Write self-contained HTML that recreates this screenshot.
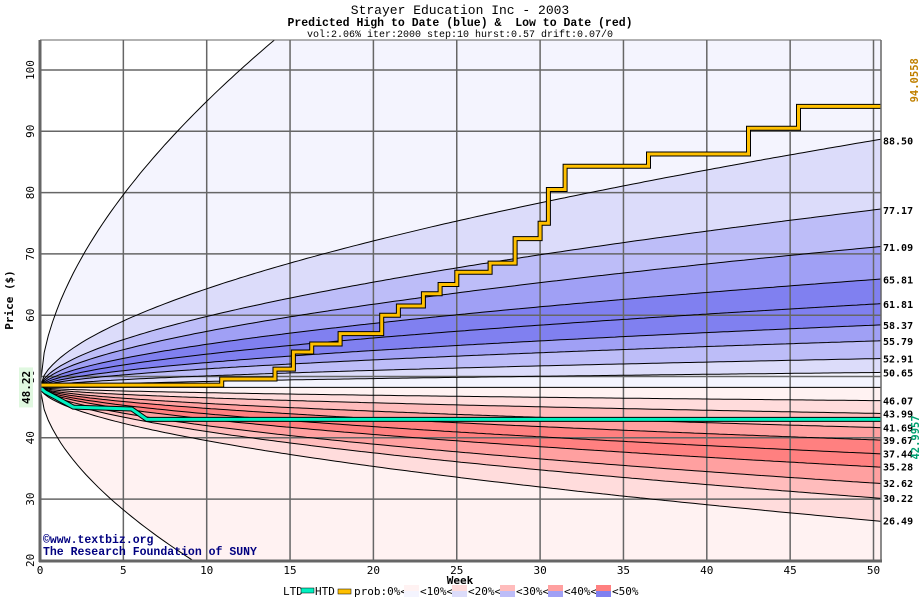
<!DOCTYPE html>
<html><head><meta charset="utf-8"><style>
html,body{margin:0;padding:0;background:#fff;overflow:hidden;width:920px;height:600px;}
svg{display:block;font-family:"DejaVu Sans Mono","Liberation Mono",monospace;}
</style></head><body>
<svg id="chart" width="920" height="600" viewBox="0 0 920 600">
<defs><clipPath id="plotclip"><rect x="40" y="40" width="841" height="520"/></clipPath></defs>
<text x="460" y="14" text-anchor="middle" font-size="13" font-family="Liberation Mono, monospace">Strayer Education Inc - 2003</text>
<text x="460" y="26" text-anchor="middle" font-size="11.5" font-weight="bold" font-family="Liberation Mono, monospace" xml:space="preserve">Predicted High to Date (blue) &amp;  Low to Date (red)</text>
<text x="460" y="37" text-anchor="middle" font-size="10" font-family="Liberation Mono, monospace">vol:2.06% iter:2000 step:10 hurst:0.57 drift:0.07/0</text>
<g id="bands" clip-path="url(#plotclip)"></g>
<g id="grid"></g>
<g id="curves" clip-path="url(#plotclip)"></g>
<g id="series" clip-path="url(#plotclip)"></g>
<g id="axes"></g>
<text x="43" y="543" font-size="11.5" font-weight="bold" fill="#000080" font-family="Liberation Mono, monospace">©www.textbiz.org</text>
<text x="43" y="555" font-size="11.5" font-weight="bold" fill="#000080" font-family="Liberation Mono, monospace">The Research Foundation of SUNY</text>
<text transform="translate(13,300) rotate(-90)" text-anchor="middle" font-size="11" font-weight="bold">Price ($)</text>
<text x="460" y="584" text-anchor="middle" font-size="11" font-weight="bold">Week</text>
<g id="legend"></g>
</svg>
<script>
const S0 = 48.22;
const blueFinals = [165, 88.50, 77.17, 71.09, 65.81, 61.81, 58.37, 55.79, 52.91, 50.65];
const redFinals = [46.07, 43.99, 41.69, 39.67, 37.44, 35.28, 32.62, 30.22, 26.49, -26];
const blueLabels = ["88.50","77.17","71.09","65.81","61.81","58.37","55.79","52.91","50.65"];
const redLabels = ["46.07","43.99","41.69","39.67","37.44","35.28","32.62","30.22","26.49"];
const blueLevels = [1,2,3,4,5,5,4,3,2,1];
const redLevels = [1,2,3,4,5,5,4,3,2,1];
const hurst = 0.57;
const xTicks = [0,5,10,15,20,25,30,35,40,45,50];
const yTicks = [20,30,40,50,60,70,80,90,100];
const htdWeeks = [0,10.9,14.1,15.2,16.3,18,20.5,21.5,23,24,25,27,28.5,30,30.5,31.5,36.5,42.5,45.5,50.5];
const htdValues = [48.6,49.6,51.2,54.0,55.3,57.0,60.0,61.5,63.5,65.0,67.0,68.5,72.5,75.0,80.5,84.3,86.3,90.5,94.06,94.06];
const ltdWeeks = [0,0.3,1,2,5.5,6.4,50.5];
const ltdValues = [48.22,47.5,46.5,45.0,44.7,43.0,43.0];
const blueCol = ["#ffffff","#f4f4fe","#dcdcfa","#bdbdf8","#a0a0f5","#8080f0"];
const redCol = ["#ffffff","#fff2f2","#ffdcdc","#ffbcbc","#ffa0a0","#ff8080"];

const X = w => 40 + w * 16.67;
const Y = p => 70 + (100 - Math.max(18, Math.min(107, p))) * 6.13;
const NS = "http://www.w3.org/2000/svg";
function mk(tag, attrs, parent){ const e=document.createElementNS(NS,tag); for(const k in attrs) e.setAttribute(k,attrs[k]); parent.appendChild(e); return e; }
const ts=[]; for(let t=0;t<=50.5001;t+=0.25) ts.push(t);
const curve = F => ts.map(t => [X(t), Y(S0 + (F - S0) * Math.pow(t/50, hurst))]);
const pts = a => a.map(p=>p[0].toFixed(1)+","+p[1].toFixed(1)).join(" ");

const bands=document.getElementById('bands'), curves=document.getElementById('curves');
const bAll=[...blueFinals, S0], rAll=[S0, ...redFinals];
for(let i=0;i<blueLevels.length;i++){
  const a=curve(bAll[i]), b=curve(bAll[i+1]).reverse();
  const e=mk('polygon',{points:pts(a.concat(b)),fill:blueCol[blueLevels[i]]},bands);
  
  
}
for(let i=0;i<redLevels.length;i++){
  const a=curve(rAll[i]), b=curve(rAll[i+1]).reverse();
  const e=mk('polygon',{points:pts(a.concat(b)),fill:redCol[redLevels[i]]},bands);
  
  
}
const grid=document.getElementById('grid');
xTicks.forEach(w=>{ if(w>0){const e=mk('line',{x1:X(w),x2:X(w),y1:40,y2:560,stroke:'#666','stroke-width':1.5},grid);
  
  }});
yTicks.forEach(v=>{ const e=mk('line',{x1:40,x2:881,y1:Y(v),y2:Y(v),stroke:'#666','stroke-width':1.5},grid);
  
  });
[...blueFinals, S0, ...redFinals].forEach((F,i)=>{
  const e=mk('polyline',{points:pts(curve(F)),fill:'none',stroke:'#000','stroke-width':1},curves);
  
  
});
const series=document.getElementById('series');
function step(ws,vs){ const p=[]; for(let i=0;i<ws.length;i++){ if(i>0) p.push([X(ws[i]),Y(vs[i-1])]); p.push([X(ws[i]),Y(vs[i])]); } return p; }
function slope(ws,vs){ return ws.map((w,i)=>[X(w),Y(vs[i])]); }
const ltd=slope(ltdWeeks,ltdValues);
let e=mk('polyline',{points:pts(ltd),fill:'none',stroke:'#000','stroke-width':5},series);
 
e=mk('polyline',{points:pts(ltd),fill:'none',stroke:'#00f0c0','stroke-width':3},series);
 
const htd=step(htdWeeks,htdValues);
e=mk('polyline',{points:pts(htd),fill:'none',stroke:'#000','stroke-width':5},series);
 
e=mk('polyline',{points:pts(htd),fill:'none',stroke:'#ffc000','stroke-width':3},series);
 

const axes=document.getElementById('axes');
mk('line',{x1:40,x2:40,y1:40,y2:562,stroke:'#666','stroke-width':3},axes);
mk('line',{x1:39,x2:882,y1:561,y2:561,stroke:'#666','stroke-width':3},axes);
mk('line',{x1:881,x2:881,y1:40,y2:562,stroke:'#666','stroke-width':1.5},axes);
mk('line',{x1:40,x2:881,y1:40,y2:40,stroke:'#666','stroke-width':1},axes);
xTicks.forEach(w=>{ const t=mk('text',{x:X(w),y:574,'text-anchor':'middle','font-size':11},axes); t.textContent=w;
   });
yTicks.forEach(v=>{ const t=mk('text',{transform:`translate(34,${Y(v)}) rotate(-90)`,'text-anchor':'middle','font-size':11},axes); t.textContent=v;
   });
blueLabels.forEach((l,i)=>{ const t=mk('text',{x:883,y:Y(blueFinals[i+1])+4,'font-size':10,'font-weight':'bold'},axes); t.textContent=l;
   });
redLabels.forEach((l,i)=>{ const t=mk('text',{x:883,y:Y(redFinals[i])+4,'font-size':10,'font-weight':'bold'},axes); t.textContent=l;
   });
mk('rect',{x:19,y:Y(S0)-20,width:14,height:40,fill:'#e0f8e0'},axes);
let t=mk('text',{transform:`translate(30,${Y(S0)}) rotate(-90)`,'text-anchor':'middle','font-size':11,'font-weight':'bold'},axes); t.textContent=S0.toFixed(2);
 
const hEnd=htdValues[htdValues.length-1], lEnd=42.9957;
t=mk('text',{transform:`translate(918,${Y(hEnd)-4}) rotate(-90)`,'text-anchor':'start','font-size':10.5,'font-weight':'bold',fill:'#c08000'},axes); t.textContent='94.0558';
 
t=mk('text',{transform:`translate(919,${Y(lEnd)+18}) rotate(-90)`,'text-anchor':'middle','font-size':10.5,'font-weight':'bold',fill:'#00a070'},axes); t.textContent=lEnd.toFixed(4);
 

const lg=document.getElementById('legend');
const lt=(x,s,n)=>{const e=mk('text',{x:x,y:595,'font-size':11},lg); e.textContent=s;  };
lt(283,'LTD','legend-ltd-label');
mk('rect',{x:301,y:588,width:13,height:5,fill:'#00f0c0',stroke:'#000','stroke-width':0.5},lg);
lt(315,'HTD','legend-htd-label');
mk('rect',{x:338,y:589,width:13,height:5,fill:'#ffc000',stroke:'#000','stroke-width':0.5},lg);
lt(354,'prob:0%<','legend-prob-label');
const labs=['<10%<','<20%<','<30%<','<40%<','<50%'];
labs.forEach((l,i)=>{ const x=404+i*48;
  mk('rect',{x:x,y:585,width:15,height:6,fill:redCol[i+1]},lg);
  mk('rect',{x:x,y:591,width:15,height:6,fill:blueCol[i+1]},lg);
  lt(x+16,l,'legend-level-'+(i+1));});
</script>
</body></html>
